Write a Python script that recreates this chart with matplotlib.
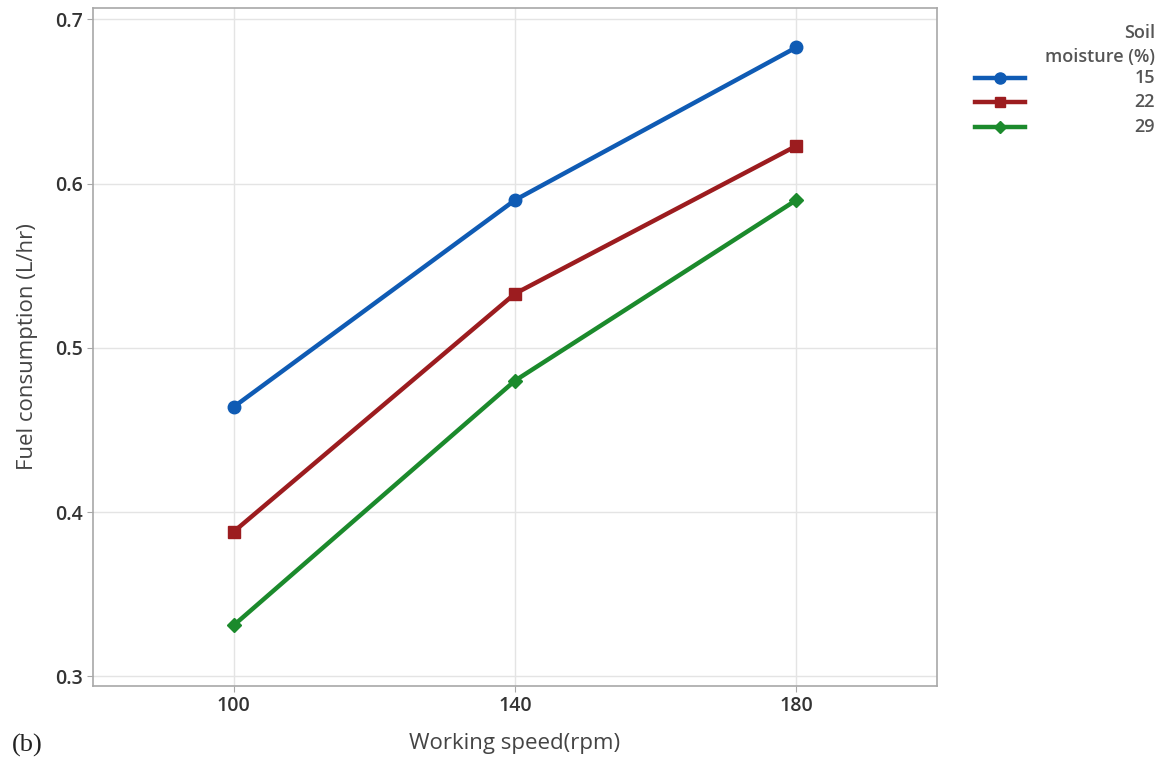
import matplotlib
matplotlib.use("Agg")
import matplotlib.pyplot as plt
from matplotlib.lines import Line2D

# Data
speeds = [100, 140, 180]
moisture_levels = ["15", "22", "29"]
fuel_15 = [0.464, 0.590, 0.683]
fuel_22 = [0.388, 0.533, 0.623]
fuel_29 = [0.331, 0.480, 0.590]

series = [fuel_15, fuel_22, fuel_29]
colors = ["#0f5bb4", "#9c1c1f", "#1b8a2c"]
markers = ["o", "s", "D"]
msizes = [9, 8, 7]

plt.rcParams["font.family"] = ["Open Sans", "DejaVu Sans"]

fig = plt.figure(figsize=(11.66, 7.73), dpi=100)
ax = fig.add_axes([0.0798, 0.1125, 0.7238, 0.8772])

for vals, c, m, ms in zip(series, colors, markers, msizes):
    ax.plot(speeds, vals, color=c, marker=m, markersize=ms, linewidth=3.2)

ax.set_xlim(80, 200)
ax.set_ylim(0.294, 0.707)
ax.set_xticks(speeds)
ax.set_yticks([0.3, 0.4, 0.5, 0.6, 0.7])
ax.set_yticklabels(["0.3", "0.4", "0.5", "0.6", "0.7"])
ax.grid(True, color="#e4e4e4", linewidth=1)
ax.set_axisbelow(True)

for s in ax.spines.values():
    s.set_color("#a8a8a8")
    s.set_linewidth(1.2)
ax.tick_params(colors="#a8a8a8", labelcolor="#333333", labelsize=14, length=4)
for lbl in ax.get_xticklabels() + ax.get_yticklabels():
    lbl.set_fontweight("semibold")

ax.set_xlabel("Working speed(rpm)", fontsize=16, color="#444444", labelpad=12)
ax.set_ylabel("Fuel consumption (L/hr)", fontsize=16, color="#444444", labelpad=12)

# legend drawn by hand to get right aligned labels
fig.text(1155 / 1166, 1 - 33 / 773, "Soil", ha="right", va="center",
         fontsize=13, color="#555555", fontweight="semibold")
fig.text(1155 / 1166, 1 - 57 / 773, "moisture (%)", ha="right", va="center",
         fontsize=13, color="#555555", fontweight="semibold")
row_y = [78, 102, 127]
for lab, c, m, ms, yy in zip(moisture_levels, colors, markers, msizes, row_y):
    fy = 1 - yy / 773
    fig.add_artist(Line2D([975 / 1166, 1025 / 1166], [fy, fy], color=c,
                          linewidth=3.2, transform=fig.transFigure))
    fig.add_artist(Line2D([1000 / 1166], [fy], color=c, marker=m,
                          markersize=ms - 1, transform=fig.transFigure))
    fig.text(1155 / 1166, fy, lab, ha="right", va="center",
             fontsize=13, color="#555555", fontweight="semibold")

fig.text(12 / 1166, 1 - 745 / 773, "(b)", ha="left", va="center",
         fontsize=19, family="Liberation Serif", color="#222222")

fig.savefig("out.png", dpi=100)
